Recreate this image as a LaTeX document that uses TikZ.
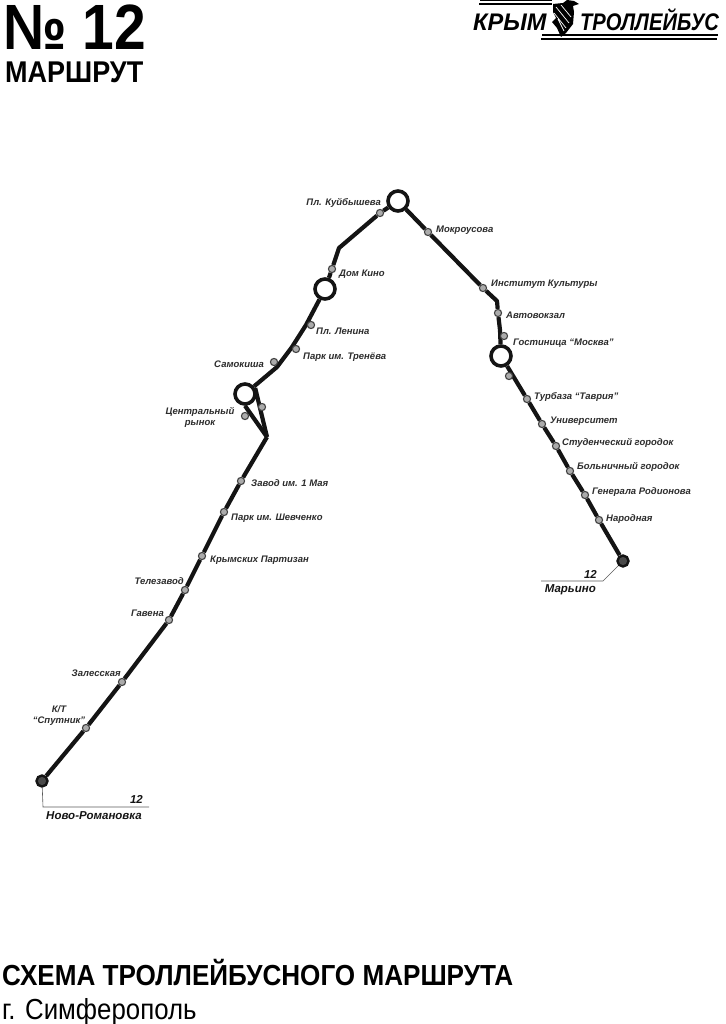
\documentclass[tikz,border=0pt]{standalone}
\usepackage{fontspec}
\setmainfont{Liberation Sans}
\usetikzlibrary{positioning}
\definecolor{routeink}{HTML}{141414}
\definecolor{stopgrey}{HTML}{ABABAB}
\definecolor{termgrey}{HTML}{4A4A4A}
\definecolor{leadgrey}{HTML}{5A5A5A}

\begin{document}
\begin{tikzpicture}[
    x=1pt, y=-1pt,
    stop/.style={circle, draw=routeink!80, fill=stopgrey, line width=1.1pt, minimum size=7.2pt, inner sep=0pt},
    hub/.style={circle, draw=routeink, fill=white, line width=3.6pt, minimum size=20pt, inner sep=0pt},
    terminus/.style={circle, draw=routeink, fill=termgrey, line width=2.4pt, minimum size=11pt, inner sep=0pt},
    lab/.style={font=\fontsize{9.5}{10.5}\selectfont\bfseries\itshape, text=routeink!90, inner sep=0pt, anchor=west, yshift=-0.6pt},
    endlab/.style={font=\fontsize{11.5}{12}\selectfont\bfseries\itshape, text=routeink, inner sep=0pt, anchor=east},
    route/.style={line width=4.2pt, draw=routeink, line join=round},
    lead/.style={line width=0.6pt, draw=leadgrey}
  ]
    \useasboundingbox (0,0) rectangle (725,1024);

    % heading
    \node[font=\fontsize{64}{64}\selectfont\bfseries, inner sep=0pt, anchor=base west, xscale=0.89, transform shape] (number) at (3,50) {№ 12};
    \node[font=\fontsize{30}{30}\selectfont\bfseries, inner sep=0pt, anchor=base west, xscale=0.9, transform shape] (heading) at (5,82.5) {МАРШРУТ};
    \node[font=\fontsize{29}{29}\selectfont\bfseries, inner sep=0pt, anchor=base west, xscale=0.9, transform shape] (title) at (2,985) {СХЕМА ТРОЛЛЕЙБУСНОГО МАРШРУТА};
    \node[font=\fontsize{29}{29}\selectfont, inner sep=0pt, anchor=base west, xscale=0.89, transform shape] (city) at (2,1019) {г. Симферополь};

    % logo
    \fill[black] (480,0) rectangle (552,1.5);
    \fill[black] (479,3) rectangle (552,5.5);
    \fill[black] (542,34) rectangle (718,36.5);
    \fill[black] (541,38) rectangle (717,40);
    \node[font=\fontsize{24}{24}\selectfont\bfseries\itshape, inner sep=0pt, anchor=base west, xscale=0.98, transform shape] (logoa) at (473,31) {КРЫМ};
    \node[font=\fontsize{24}{24}\selectfont\bfseries\itshape, inner sep=0pt, anchor=base west, xscale=0.84, transform shape] (logob) at (580,31) {ТРОЛЛЕЙБУС};
    \fill[black] (553,4) -- (563,3) -- (567,0) -- (574,1) -- (579,4) -- (573,6) -- (574,12) -- (573,24) -- (566,33) -- (561,37) -- (557,28) -- (552,22) -- (556,18) -- (553,12) -- cycle;
    \draw[white, line width=0.7pt] (556,7) -- (569,23) (554,13) -- (566,28) (558,19) -- (564,31) (561,5) -- (571,17);

    % stops, west branch
    \node[terminus] (novoromanovka) at (42,781) {};
    \node[stop] (sputnik) at (86,728) {};
    \node[stop] (zalesskaya) at (122,682) {};
    \node[stop] (gavena) at (169,620) {};
    \node[stop] (telezavod) at (185,590) {};
    \node[stop] (partizan) at (202,556) {};
    \node[stop] (shevchenko) at (224,512) {};
    \node[stop] (zavod) at (241,481) {};
    \coordinate (turn) at (267,437);
    \node[hub] (rynok) at (245,394) {};
    \node[hub] (domhub) at (325,289) {};
    \node[stop] (domkino) at (332,269) {};
    \coordinate (bendw) at (339,248);
    \node[stop] (kuib) at (380,213) {};
    \node[hub] (kuibhub) at (398,201) {};

    % stops, east branch
    \node[stop] (mokrousova) at (428,232) {};
    \node[stop] (institut) at (483,288) {};
    \coordinate (bende) at (497,301);
    \node[stop] (avtovokzal) at (498,313) {};
    \node[hub] (moskva) at (501,356) {};
    \node[stop] (tavria) at (527,399) {};
    \node[stop] (univer) at (542,424) {};
    \node[stop] (student) at (556,446) {};
    \node[stop] (bolnica) at (570,471) {};
    \node[stop] (rodionova) at (585,495) {};
    \node[stop] (narodnaya) at (599,520) {};
    \node[terminus] (maryino) at (623,561) {};

    \coordinate (sama) at (277,367);
    \coordinate (samb) at (292,347);
    \coordinate (samc) at (306,325);
    \coordinate (moska) at (500,330);
    \draw[route] (novoromanovka) -- (sputnik) -- (zalesskaya) -- (gavena) -- (telezavod) -- (partizan) -- (shevchenko) -- (zavod) -- (turn);
    \draw[route] (turn) -- (rynok.south);
    \draw[route] (turn) -- (rynok.30);
    \draw[route] (rynok) -- (sama) -- (samb) -- (samc) -- (domhub);
    \draw[route] (domhub) -- (domkino) -- (bendw) -- (kuib) -- (kuibhub);
    \draw[route] (kuibhub) -- (mokrousova) -- (institut) -- (bende) -- (avtovokzal) -- (moska) -- (moskva);
    \draw[route] (moskva) -- (tavria) -- (univer) -- (student) -- (bolnica) -- (rodionova) -- (narodnaya) -- (maryino);

    % stops beside the line
    \node[stop] (rynoka) at (245,416) {};
    \node[stop] (rynokb) at (262,407) {};
    \node[stop] (samokisha) at (274,362) {};
    \node[stop] (trenev) at (296,349) {};
    \node[stop] (lenin) at (311,325) {};
    \node[stop] (moskvastop) at (504,336) {};
    \node[stop] (moskvasouth) at (509,376) {};

    % leaders
    \coordinate (leada) at (43,807);
    \coordinate (leadb) at (149,807);
    \coordinate (leadc) at (603,581);
    \coordinate (leadd) at (541,581);
    \draw[lead] (novoromanovka) -- (leada) -- (leadb);
    \draw[lead] (maryino) -- (leadc) -- (leadd);

    % labels
    \node[lab, anchor=east] (lkuib) at (381,202) {Пл. Куйбышева};
    \node[lab] (lmokrousova) at (436,230) {Мокроусова};
    \node[lab] (ldomkino) at (339,274) {Дом Кино};
    \node[lab] (llenin) at (316,331) {Пл. Ленина};
    \node[lab] (ltrenev) at (303,357) {Парк им. Тренёва};
    \node[lab, anchor=east] (lsamokisha) at (264,364) {Самокиша};
    \node[lab, align=center, anchor=center] (lrynok) at (200,417) {Центральный\\рынок};
    \node[lab] (lzavod) at (251,483) {Завод им. 1 Мая};
    \node[lab] (lshevchenko) at (231,518) {Парк им. Шевченко};
    \node[lab] (lpartizan) at (210,560) {Крымских Партизан};
    \node[lab, anchor=east] (ltelezavod) at (184,580) {Телезавод};
    \node[lab, anchor=east] (lgavena) at (164,613) {Гавена};
    \node[lab, anchor=east] (lzalesskaya) at (121,673) {Залесская};
    \node[lab, align=center, anchor=center] (lsputnik) at (59,715) {К/Т\\“Спутник”};
    \node[lab] (linstitut) at (491,284) {Институт Культуры};
    \node[lab] (lavtovokzal) at (506,315) {Автовокзал};
    \node[lab] (lmoskva) at (513,343) {Гостиница “Москва”};
    \node[lab] (ltavria) at (534,396) {Турбаза “Таврия”};
    \node[lab] (luniver) at (550,421) {Университет};
    \node[lab] (lstudent) at (562,442) {Студенческий городок};
    \node[lab] (lbolnica) at (577,466) {Больничный городок};
    \node[lab] (lrodionova) at (592,491) {Генерала Родионова};
    \node[lab] (lnarodnaya) at (606,518) {Народная};

    \node[endlab] (numw) at (143,799) {12};
    \node[endlab] (lnovo) at (142,816) {Ново-Романовка};
    \node[endlab] (nume) at (597,574) {12};
    \node[endlab] (lmaryino) at (596,590) {Марьино};
  \end{tikzpicture}
\end{document}
